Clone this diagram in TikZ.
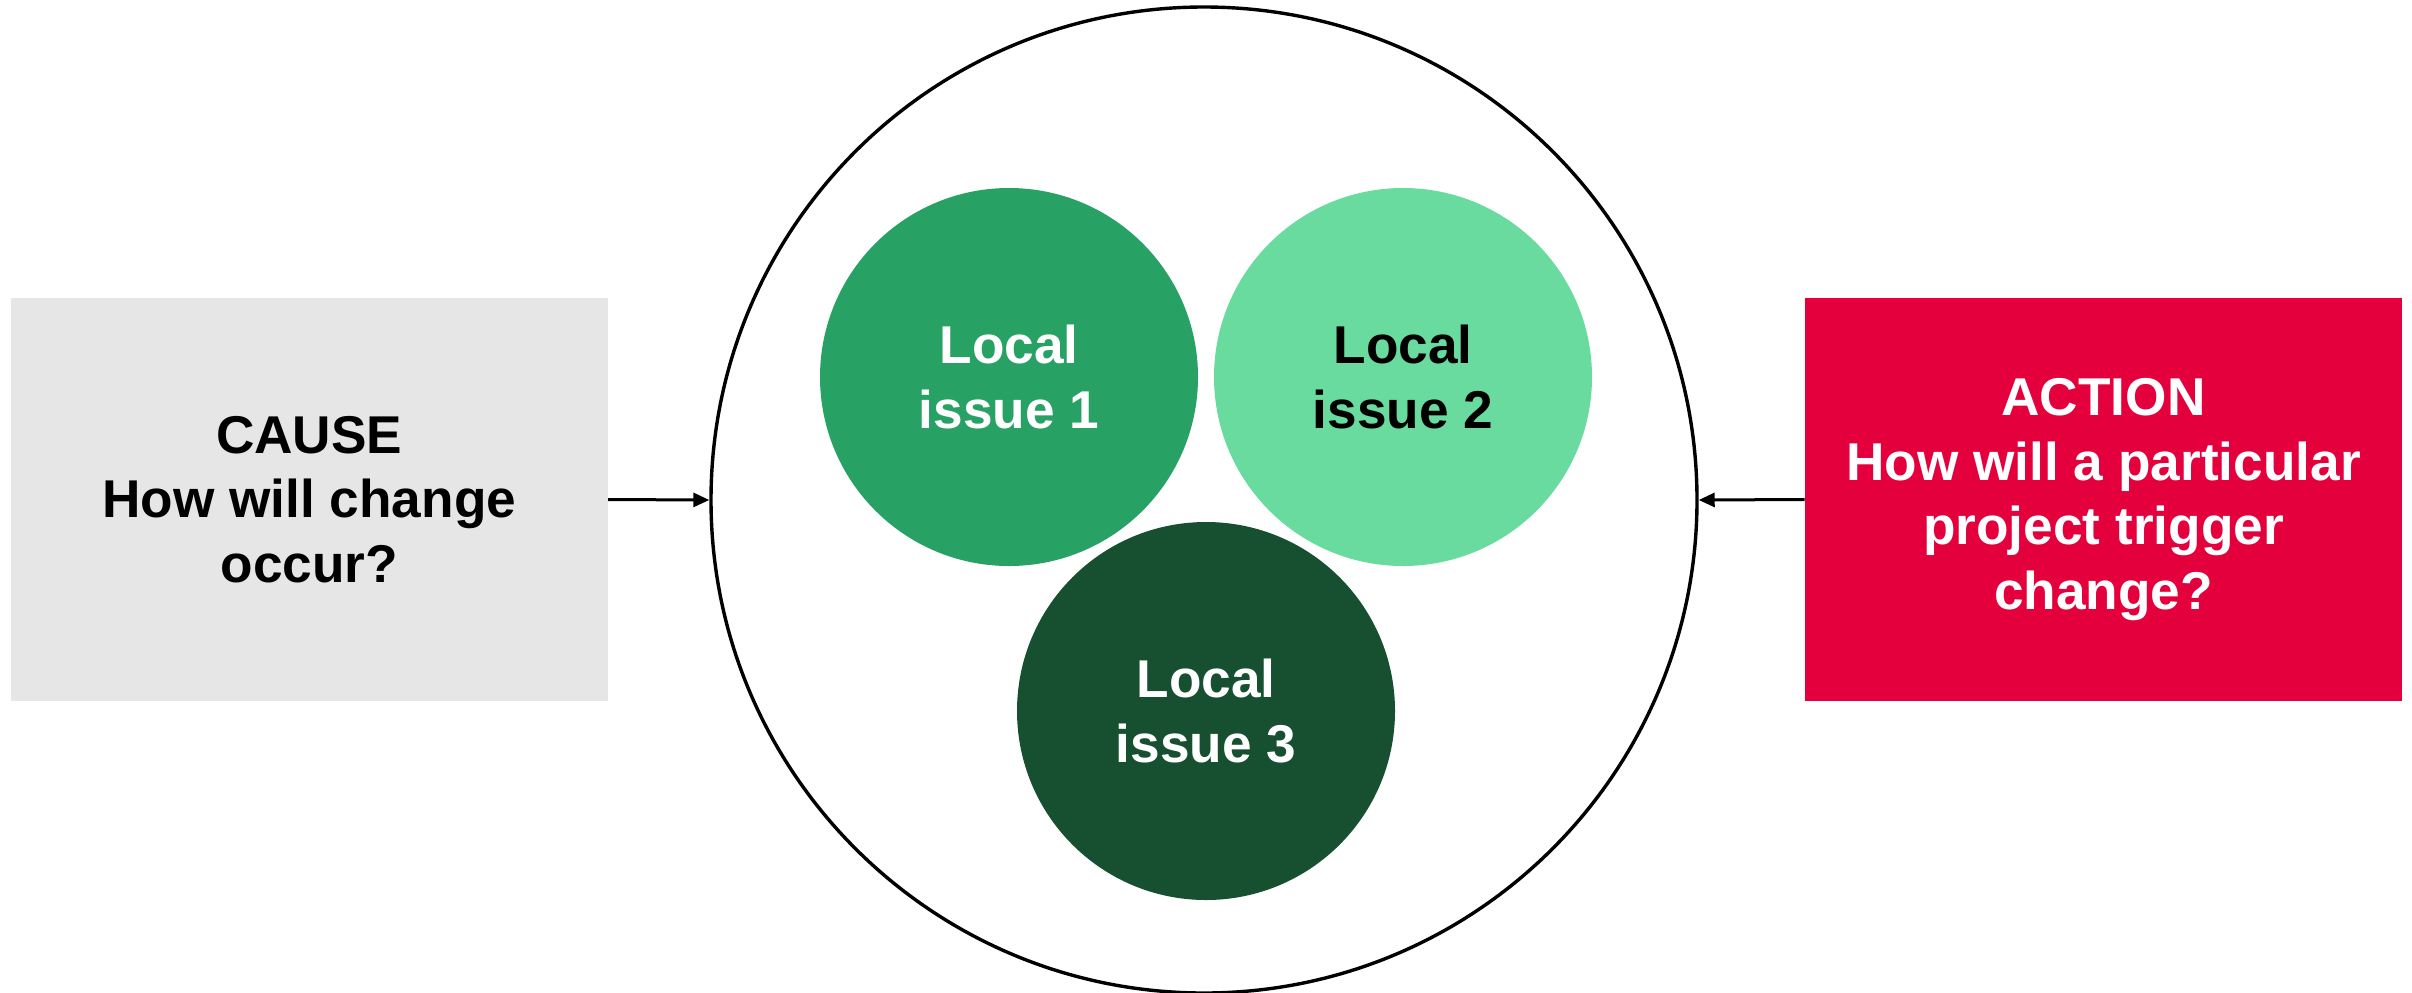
\documentclass[tikz,border=0pt]{standalone}
\usepackage{fontspec}
\setmainfont{Liberation Sans}
\usetikzlibrary{arrows.meta}
\definecolor{causegray}{RGB}{230,230,230}
\definecolor{actred}{RGB}{227,0,60}
\definecolor{gmid}{RGB}{40,161,100}
\definecolor{glight}{RGB}{106,219,159}
\definecolor{gdark}{RGB}{22,80,48}
\tikzset{
  txt/.style={font=\fontsize{26.6}{32.4}\selectfont\bfseries, align=center},
  box/.style={txt, minimum width=298.5pt, minimum height=201.5pt, inner sep=0pt},
  issue/.style={circle, txt, minimum size=189pt, inner sep=0pt, text=white},
  conn/.style={line width=1.5pt, -{Triangle[length=8pt,width=7pt]}},
}
\begin{document}
\begin{tikzpicture}[x=0.5pt,y=-0.5pt]
\useasboundingbox (0,0) rectangle (2412,992);
\node[circle, draw, line width=1.7pt, minimum size=493pt, inner sep=0pt] (big) at (1204,500) {};
\node[box, fill=causegray] (cause) at (309.2,499.5) {CAUSE\\How will change\\occur?};
\node[box, fill=actred, text=white] (action) at (2103.5,499.5) {ACTION\\How will a particular\\project trigger\\change?};
\node[issue, fill=gmid] (i1) at (1009,377) {Local\\issue 1};
\node[issue, fill=glight, text=black] (i2) at (1403,377) {Local\\issue 2};
\node[issue, fill=gdark] (i3) at (1206,711) {Local\\issue 3};
\draw[conn] (cause.east) -- (big.west);
\draw[conn] (action.west) -- (big.east);
\end{tikzpicture}
\end{document}
